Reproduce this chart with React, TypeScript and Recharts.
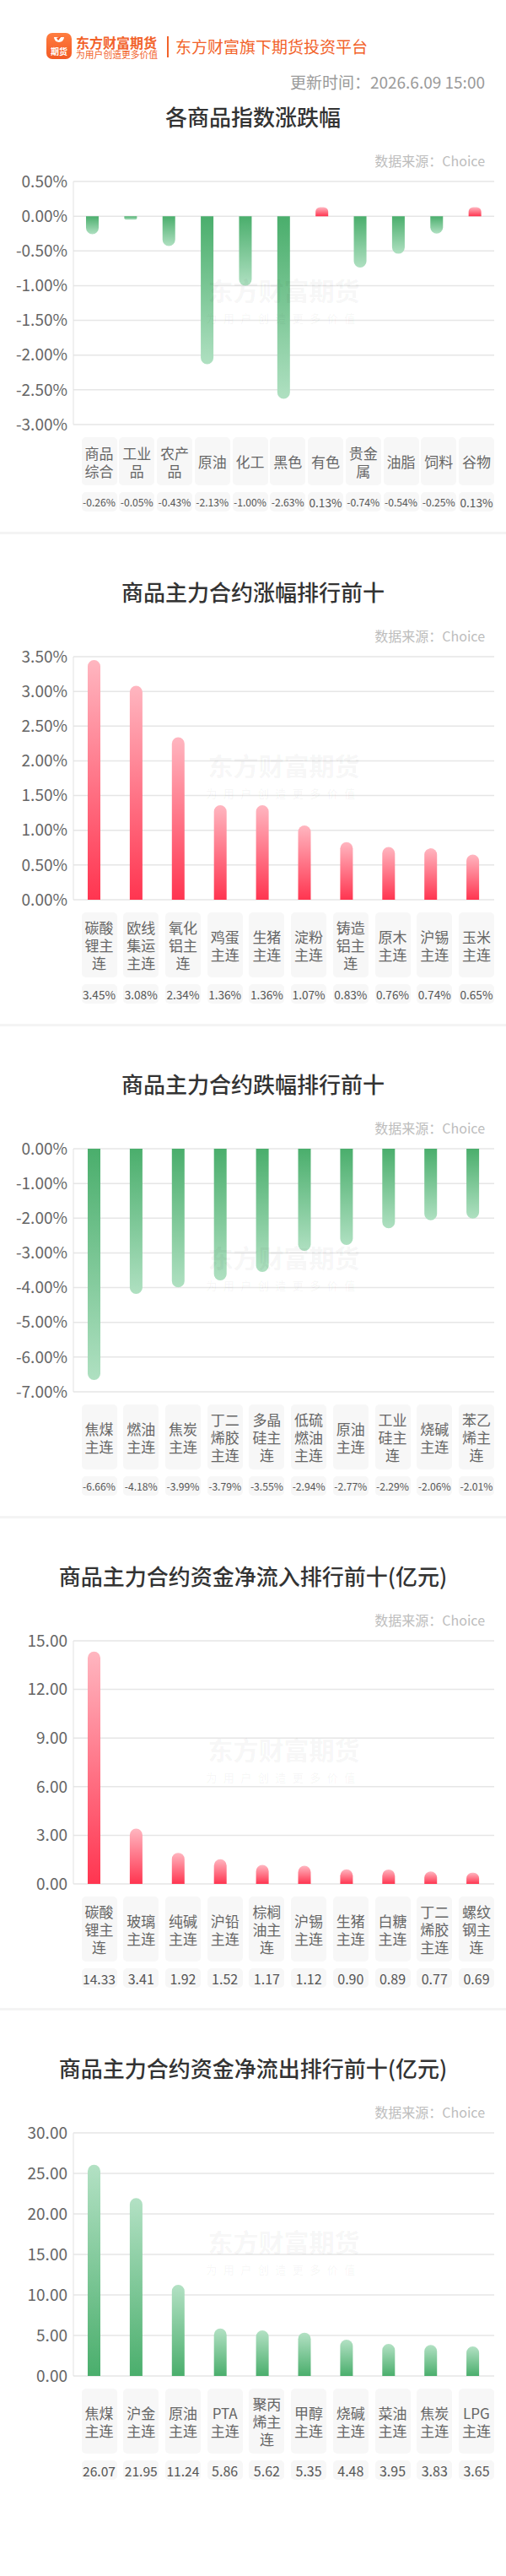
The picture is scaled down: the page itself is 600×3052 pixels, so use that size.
import { BarChart, Bar, Cell, XAxis, YAxis, CartesianGrid } from 'recharts';

const FONT = '"Noto Sans CJK SC", "Noto Sans", sans-serif';

// 各商品指数涨跌幅
const indexNames = ['商品综合', '工业品', '农产品', '原油', '化工', '黑色', '有色', '贵金属', '油脂', '饲料', '谷物'];
const indexChange = [-0.26, -0.05, -0.43, -2.13, -1.0, -2.63, 0.13, -0.74, -0.54, -0.25, 0.13];
const indexTicks = [0.5, 0, -0.5, -1, -1.5, -2, -2.5, -3];

// 涨幅前十
const gainNames = ['碳酸锂主连', '欧线集运主连', '氧化铝主连', '鸡蛋主连', '生猪主连', '淀粉主连', '铸造铝主连', '原木主连', '沪锡主连', '玉米主连'];
const gainValues = [3.45, 3.08, 2.34, 1.36, 1.36, 1.07, 0.83, 0.76, 0.74, 0.65];
const gainTicks = [0, 0.5, 1, 1.5, 2, 2.5, 3, 3.5];

// 跌幅前十
const lossNames = ['焦煤主连', '燃油主连', '焦炭主连', '丁二烯胶主连', '多晶硅主连', '低硫燃油主连', '原油主连', '工业硅主连', '烧碱主连', '苯乙烯主连'];
const lossValues = [-6.66, -4.18, -3.99, -3.79, -3.55, -2.94, -2.77, -2.29, -2.06, -2.01];
const lossTicks = [0, -1, -2, -3, -4, -5, -6, -7];

// 资金净流入前十(亿元)
const inflowNames = ['碳酸锂主连', '玻璃主连', '纯碱主连', '沪铅主连', '棕榈油主连', '沪锡主连', '生猪主连', '白糖主连', '丁二烯胶主连', '螺纹钢主连'];
const inflowValues = [14.33, 3.41, 1.92, 1.52, 1.17, 1.12, 0.9, 0.89, 0.77, 0.69];
const inflowTicks = [0, 3, 6, 9, 12, 15];

// 资金净流出前十(亿元)
const outflowNames = ['焦煤主连', '沪金主连', '原油主连', 'PTA主连', '聚丙烯主连', '甲醇主连', '烧碱主连', '菜油主连', '焦炭主连', 'LPG主连'];
const outflowValues = [26.07, 21.95, 11.24, 5.86, 5.62, 5.35, 4.48, 3.95, 3.83, 3.65];
const outflowTicks = [0, 5, 10, 15, 20, 25, 30];

const pct = (v: number) => `${v.toFixed(2)}%`;
const num = (v: number) => v.toFixed(2);

let ctx: CanvasRenderingContext2D | null = null;
function fitFont(text: string, base: number, maxW: number) {
  if (!ctx) ctx = document.createElement('canvas').getContext('2d');
  if (!ctx) return base;
  ctx.font = `${base}px ${FONT}`;
  const w = ctx.measureText(text).width;
  return w > maxW ? (base * maxW) / w : base;
}

type SectionProps = {
  id: string;
  top: number; // title centre
  title: string;
  names: string[];
  values: number[];
  ticks: number[];
  fmt: (v: number) => string;
  fill: (v: number) => string;
  catH: number;
  last?: boolean;
};

const PAD = 14;

function Section({ id, top, title, names, values, ticks, fmt, fill, catH, last }: SectionProps) {
  const rows = names.map((name, i) => ({ name, value: values[i] }));
  const plotTop = top + 77;
  const plotH = 288;
  const catTop = plotTop + plotH + 15;
  const valTop = catTop + catH + 8;
  const lo = Math.min(...ticks);
  const hi = Math.max(...ticks);
  return (
    <>
      <div
        style={{
          position: 'absolute',
          left: 0,
          width: 600,
          top: top - 18,
          lineHeight: '36px',
          textAlign: 'center',
          fontSize: 26,
          fontWeight: 500,
          color: '#333',
        }}
      >
        {title}
      </div>
      <div
        style={{
          position: 'absolute',
          right: 25,
          top: top + 52 - 11,
          lineHeight: '22px',
          fontSize: 16,
          color: '#bdbdbd',
        }}
      >
        数据来源：Choice
      </div>
      <div style={{ position: 'absolute', left: 0, top: plotTop - PAD }}>
        <BarChart
          width={600}
          height={plotH + PAD * 2}
          data={rows}
          margin={{ top: PAD, right: 14, bottom: PAD, left: 0 }}
          barSize={15}
        >
          <defs>
            <linearGradient id={`${id}-gd`} x1="0" y1="0" x2="0" y2="1">
              <stop offset="0%" stopColor="#4aae6c" />
              <stop offset="100%" stopColor="#afe0c1" />
            </linearGradient>
            <linearGradient id={`${id}-gu`} x1="0" y1="0" x2="0" y2="1">
              <stop offset="0%" stopColor="#b3e1c4" />
              <stop offset="100%" stopColor="#4aae6c" />
            </linearGradient>
            <linearGradient id={`${id}-ru`} x1="0" y1="0" x2="0" y2="1">
              <stop offset="0%" stopColor="#ffb6c0" />
              <stop offset="100%" stopColor="#ff3550" />
            </linearGradient>
          </defs>
          <CartesianGrid vertical={false} stroke="#e6e6e6" strokeWidth={1.5} />
          <XAxis dataKey="name" hide />
          <YAxis
            type="number"
            domain={[lo, hi]}
            ticks={ticks}
            interval={0}
            width={87}
            allowDataOverflow
            axisLine={{ stroke: '#e2e2e2' }}
            tickLine={false}
            tickSize={0}
            tickMargin={7}
            tick={{ fill: '#666', fontSize: 19, fontFamily: FONT }}
            tickFormatter={fmt}
          />
          <Bar dataKey="value" isAnimationActive={false} radius={[7.5, 7.5, 0, 0]}>
            {rows.map((r) => (
              <Cell key={r.name} fill={`url(#${id}-${fill(r.value)})`} />
            ))}
          </Bar>
        </BarChart>
      </div>
      {/* watermark */}
      <div
        style={{
          position: 'absolute',
          left: 87,
          width: 499,
          top: plotTop + plotH / 2 - 38,
          textAlign: 'center',
          pointerEvents: 'none',
        }}
      >
        <div style={{ fontSize: 30, fontWeight: 700, lineHeight: '44px', color: 'rgba(0,0,0,0.055)' }}>
          东方财富期货
        </div>
        <div style={{ fontSize: 13, lineHeight: '20px', letterSpacing: 7.5, color: 'rgba(0,0,0,0.05)', marginTop: 2 }}>
          为用户创造更多价值
        </div>
      </div>
      <div
        style={{
          position: 'absolute',
          left: 96.5,
          width: 489.5,
          top: catTop,
          height: catH,
          display: 'flex',
          justifyContent: 'space-between',
        }}
      >
        {names.map((n) => (
          <div
            key={n}
            style={{
              width: 42,
              height: catH,
              background: '#f7f7f7',
              borderRadius: 5,
              display: 'flex',
              alignItems: 'center',
              justifyContent: 'center',
              textAlign: 'center',
              fontSize: 17,
              lineHeight: '21px',
              color: '#666',
            }}
          >
            <span>{n}</span>
          </div>
        ))}
      </div>
      <div
        style={{
          position: 'absolute',
          left: 96.5,
          width: 489.5,
          top: valTop,
          height: 23,
          display: 'flex',
          justifyContent: 'space-between',
        }}
      >
        {values.map((v, i) => {
          const s = fmt === pct ? pct(v) : num(v);
          return (
            <div
              key={names[i]}
              style={{
                width: 42,
                height: 23,
                background: '#f7f7f7',
                borderRadius: 5,
                display: 'flex',
                alignItems: 'center',
                justifyContent: 'center',
                fontSize: fitFont(s, 16, 39),
                color: '#555',
                whiteSpace: 'nowrap',
              }}
            >
              {s}
            </div>
          );
        })}
      </div>
      {!last && (
        <div
          style={{
            position: 'absolute',
            left: 0,
            width: 600,
            top: valTop + 23 + 24,
            height: 3,
            background: '#f4f4f4',
          }}
        />
      )}
    </>
  );
}

export default function App() {
  const signFill = (v: number) => (v >= 0 ? 'ru' : 'gd');
  return (
    <div style={{ position: 'relative', width: 600, height: 3052, background: '#fff', fontFamily: FONT, overflow: 'hidden' }}>
      <style>{'body{margin:0}'}</style>
      {/* header */}
      <div
        style={{
          position: 'absolute',
          left: 55,
          top: 39,
          width: 30,
          height: 31,
          borderRadius: 7,
          background: 'linear-gradient(180deg,#ff7d40,#f25a24)',
          overflow: 'hidden',
        }}
      >
        <svg width={30} height={14} style={{ position: 'absolute', left: 0, top: 2 }}>
          <path d="M9 3 A6 6 0 0 0 21 3 Z" fill="#fff" />
          <path d="M12 4 L18 2 L14 7 Z" fill="#f25a24" />
        </svg>
        <div
          style={{
            position: 'absolute',
            left: 0,
            width: 30,
            bottom: 3,
            textAlign: 'center',
            color: '#fff',
            fontSize: 10,
            lineHeight: '12px',
            fontWeight: 700,
          }}
        >
          期货
        </div>
      </div>
      <div style={{ position: 'absolute', left: 90, top: 40, fontSize: 16, lineHeight: '20px', fontWeight: 700, color: '#f2622a' }}>
        东方财富期货
      </div>
      <div style={{ position: 'absolute', left: 90, top: 57, fontSize: 10.8, lineHeight: '14px', color: '#f2622a' }}>
        为用户创造更多价值
      </div>
      <div style={{ position: 'absolute', left: 198, top: 43, width: 2, height: 25, background: '#f2622a' }} />
      <div style={{ position: 'absolute', left: 208, top: 42, fontSize: 19, lineHeight: '26px', color: '#f2622a' }}>
        东方财富旗下期货投资平台
      </div>
      <div style={{ position: 'absolute', right: 25, top: 84, fontSize: 19, lineHeight: '26px', color: '#9a9a9a' }}>
        更新时间：2026.6.09 15:00
      </div>

      <Section
        id="c1"
        top={138}
        title="各商品指数涨跌幅"
        names={indexNames}
        values={indexChange}
        ticks={indexTicks}
        fmt={pct}
        fill={signFill}
        catH={57}
      />
      <Section
        id="c2"
        top={701}
        title="商品主力合约涨幅排行前十"
        names={gainNames}
        values={gainValues}
        ticks={gainTicks}
        fmt={pct}
        fill={() => 'ru'}
        catH={77}
      />
      <Section
        id="c3"
        top={1284}
        title="商品主力合约跌幅排行前十"
        names={lossNames}
        values={lossValues}
        ticks={lossTicks}
        fmt={pct}
        fill={() => 'gd'}
        catH={77}
      />
      <Section
        id="c4"
        top={1867}
        title="商品主力合约资金净流入排行前十(亿元)"
        names={inflowNames}
        values={inflowValues}
        ticks={inflowTicks}
        fmt={num}
        fill={() => 'ru'}
        catH={77}
      />
      <Section
        id="c5"
        top={2450}
        title="商品主力合约资金净流出排行前十(亿元)"
        names={outflowNames}
        values={outflowValues}
        ticks={outflowTicks}
        fmt={num}
        fill={() => 'gu'}
        catH={77}
        last
      />
    </div>
  );
}
